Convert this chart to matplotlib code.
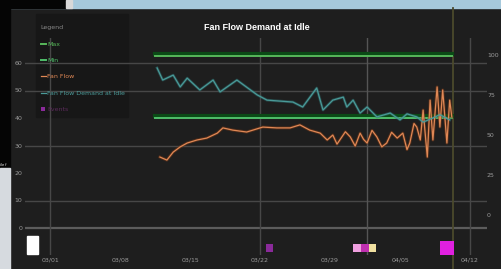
import matplotlib.pyplot as plt
from matplotlib.patches import Rectangle

# ---- data ----
tick_labels = ["03/01", "03/08", "03/15", "03/22", "03/29", "04/05", "04/12"]
left_ticks = [0, 10, 20, 30, 40, 50, 60]
right_ticks = [0, 25, 50, 75, 100]
grid_levels = [10, 30, 50, 60]
grid_days = [0, 3, 6]

limit_x = [1.5, 5.74]
upper_limit = 62.5
lower_limit = 40.0

demand_x = [1.53, 1.61, 1.76, 1.86, 1.96, 2.14, 2.33, 2.43, 2.67, 2.96, 3.10,
            3.47, 3.61, 3.81, 3.90, 4.04, 4.19, 4.24, 4.33, 4.43, 4.53, 4.67,
            4.86, 5.00, 5.10, 5.24, 5.33, 5.47, 5.57, 5.71]
demand_y = [58.2, 53.8, 55.6, 51.3, 54.5, 50.2, 53.8, 49.5, 53.8, 48.4, 46.5,
            45.8, 44.0, 50.9, 42.9, 46.5, 47.6, 44.0, 46.5, 41.8, 44.0, 40.4,
            41.8, 39.3, 41.5, 40.4, 38.5, 40.0, 41.2, 39.3]

flow_x = [1.57, 1.67, 1.76, 1.86, 1.96, 2.10, 2.24, 2.39, 2.47, 2.61, 2.81,
          3.04, 3.24, 3.43, 3.57, 3.71, 3.86, 3.96, 4.04, 4.10, 4.14, 4.22,
          4.29, 4.36, 4.43, 4.48, 4.53, 4.60, 4.67, 4.74, 4.81, 4.88, 4.96,
          5.04, 5.10, 5.14, 5.20, 5.24, 5.29, 5.33, 5.39, 5.43, 5.47, 5.53,
          5.57, 5.61, 5.67, 5.71, 5.74]
flow_y = [25.8, 24.7, 27.6, 29.5, 30.9, 32.0, 32.7, 34.5, 36.4, 35.6, 34.9,
          36.7, 36.4, 36.4, 37.5, 35.6, 34.5, 32.0, 33.8, 30.5, 32.0, 35.0,
          33.1, 29.8, 34.5, 32.2, 30.9, 35.5, 33.1, 29.5, 30.9, 34.8, 32.7,
          34.5, 28.5, 30.9, 38.0, 36.7, 32.0, 42.9, 25.8, 46.5, 32.0, 51.3,
          36.7, 50.2, 30.9, 46.5, 40.4]

event_x = [3.14, 4.39, 4.51, 4.61, 5.67]
event_y = [-7.3, -7.3, -7.3, -7.3, -7.3]
event_colors = ["#8a2a9a", "#f0a0e0", "#c030b0", "#f0e0a0", "#e020e0"]
event_sizes = [28, 38, 38, 28, 110]

marker_day = 5.757
highlight_day = 4.53

BG = "#1e1e1e"
GRID = "#474747"
TXT = "#9a9a9a"

fig = plt.figure(figsize=(5.01, 2.69), dpi=100, facecolor=BG)

# screenshot chrome around the panel
W, H = 501, 269
def frac_rect(x, y, w, h, color, z=-1):
    fig.patches.append(Rectangle((x / W, 1 - (y + h) / H), w / W, h / H,
                                 transform=fig.transFigure, color=color,
                                 zorder=z))

frac_rect(0, 0, W, 8, "#a6c9dc")
frac_rect(0, 0, 66, 8, "#050505")
frac_rect(66, 0, 6, 8, "#d8d8d8")
frac_rect(0, 0, 10, 168, "#050505")
frac_rect(0, 168, 10, 101, "#d6dadf")
frac_rect(36, 14, 92, 103, "#171717")
fig.text(0.5 / W, 1 - 165 / H, "ile f", fontsize=2.5, color="white",
         va="center")

ax = fig.add_axes([25 / W, 14 / H, 462 / W, 217 / H])
ax.set_facecolor("none")
for s in ax.spines.values():
    s.set_visible(False)

ax.set_xlim(-25 / 70, 437 / 70)
ax.set_ylim(-27 / 2.75, 190 / 2.75)

for g in grid_levels:
    ax.axhline(g, color=GRID, lw=1, zorder=1)
ax.axhline(0, color="#5c5c5c", lw=1.6, zorder=1)
for d in grid_days:
    ax.axvline(d, color=GRID, lw=1, zorder=1)
ax.axvline(highlight_day, color="#555555", lw=1, zorder=1)
ax.axvline(marker_day, ymin=-0.065, ymax=1.14, color="#4b4a2c", lw=1.3,
           clip_on=False, zorder=1)

# limits
for lvl in (upper_limit, lower_limit):
    ax.plot(limit_x, [lvl + 0.9, lvl + 0.9], color="#0b4a16", lw=3, zorder=2)
ax.plot(limit_x, [upper_limit, upper_limit], color="#57b85a", lw=1.4,
        zorder=3, label="Max")
ax.plot(limit_x, [lower_limit, lower_limit], color="#4fbf6a", lw=1.4,
        zorder=3, label="Min")

ax.plot(flow_x, flow_y, color="#6a3518", lw=2.2, alpha=0.6, zorder=3)
ax.plot(flow_x, flow_y, color="#e08855", lw=0.9, zorder=4, label="Fan Flow")
ax.plot(demand_x, demand_y, color="#2f6f70", lw=2, alpha=0.5, zorder=3)
ax.plot(demand_x, demand_y, color="#4a9a98", lw=0.9, zorder=4,
        label="Fan Flow Demand at Idle")

ax.scatter(event_x, event_y, c=event_colors, s=event_sizes, marker="s",
           edgecolors="none", zorder=5, label="Events")

ax.set_xticks(range(len(tick_labels)))
ax.set_xticklabels(tick_labels)
ax.set_yticks(left_ticks)
ax.tick_params(colors=TXT, labelsize=4.5, length=0, pad=2)
ax.tick_params(axis="y", pad=2)

ax2 = ax.twinx()
ax2.set_position(ax.get_position())
ax2.set_ylim(-25, 217 / 40 * 25 - 25)
ax2.set_yticks(right_ticks)
ax2.tick_params(colors=TXT, labelsize=4.5, length=0, pad=0)
for s in ax2.spines.values():
    s.set_visible(False)

fig.text(257 / W, 1 - 28 / H, "Fan Flow Demand at Idle", color="white",
         fontsize=6.5, fontweight="bold", ha="center", va="center",
         family=["Liberation Sans", "DejaVu Sans"])

fig.patches.append(Rectangle((27 / W, 1 - 254 / H), 11 / W, 18 / H,
                             transform=fig.transFigure, color="white",
                             zorder=6))

leg = ax.legend(loc="upper left", bbox_to_anchor=(38 / W, 1 - 23 / H, 88 / W, 0),
                bbox_transform=fig.transFigure, mode="expand",
                borderaxespad=0, fontsize=4.5, title="Legend",
                title_fontsize=4.5, frameon=False, labelcolor="linecolor",
                handlelength=0.8, handletextpad=0.3, labelspacing=1.75,
                markerscale=0.35)
leg.get_title().set_color("#888888")
leg._legend_box.align = "left"
leg.texts[-1].set_color("#5a2a5a")

fig.savefig("out.png", dpi=100, facecolor=BG)
